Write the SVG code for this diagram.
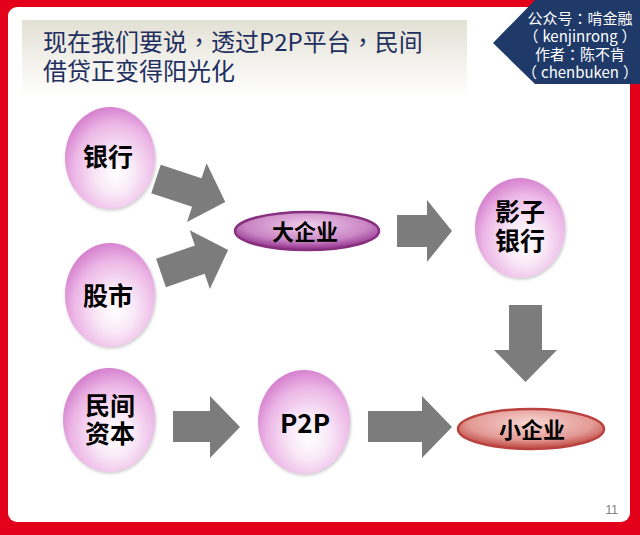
<svg xmlns="http://www.w3.org/2000/svg" width="640" height="535" viewBox="0 0 640 535">
<defs>
<style>
.cjk{font-family:"Noto Sans CJK SC","Liberation Sans",sans-serif;}
.p{font-family:"Noto Sans CJK TC","Noto Sans CJK SC",sans-serif;}
.node{font-family:"Noto Sans CJK SC","Liberation Sans",sans-serif;font-weight:700;fill:#000;text-anchor:middle;}
.sphere{fill:url(#sph);filter:url(#sh);}
.arrow{fill:#7c7c7c;}
.badge{font-family:"Noto Sans CJK SC","Liberation Sans",sans-serif;font-size:15px;fill:#fff;text-anchor:middle;}
</style>
<radialGradient id="sph" cx="0.56" cy="0.62" r="0.62" fx="0.56" fy="0.66">
<stop offset="0" stop-color="#ffffff"/>
<stop offset="0.35" stop-color="#f9e8f7"/>
<stop offset="0.75" stop-color="#ecb6e6"/>
<stop offset="1" stop-color="#d683cf"/>
</radialGradient>
<radialGradient id="purp" cx="0.5" cy="0.35" r="0.6">
<stop offset="0" stop-color="#efcdeb"/>
<stop offset="0.7" stop-color="#c985c4"/>
<stop offset="1" stop-color="#9b3e95"/>
</radialGradient>
<radialGradient id="redg" cx="0.5" cy="0.35" r="0.6">
<stop offset="0" stop-color="#f8d6d2"/>
<stop offset="0.7" stop-color="#e39b96"/>
<stop offset="1" stop-color="#c4544f"/>
</radialGradient>
<linearGradient id="tbox" x1="0" y1="0" x2="0" y2="1">
<stop offset="0" stop-color="#e3e1d5"/>
<stop offset="1" stop-color="#ffffff"/>
</linearGradient>
<filter id="sh" x="-20%" y="-20%" width="140%" height="140%">
<feDropShadow dx="1" dy="1.5" stdDeviation="1.5" flood-color="#666" flood-opacity="0.35"/>
</filter>
</defs>

<g id="frame">
<rect x="0" y="0" width="640" height="535" fill="#e2001a"/>
<rect x="8" y="7" width="622" height="515" rx="9" fill="#ffffff"/>
</g>

<g id="title">
<rect x="22" y="20" width="445" height="78" fill="url(#tbox)"/>
<text class="cjk" x="43" y="51" font-size="24" fill="#1f2f5f">现在我们要说<tspan class="p">，</tspan>透过P2P平台<tspan class="p">，</tspan>民间</text>
<text class="cjk" x="43" y="80" font-size="24" fill="#1f2f5f">借贷正变得阳光化</text>
</g>

<g id="badge">
<polygon points="493,43 535,0 640,0 640,84 535,84" fill="#1f3a68"/>
<text class="badge" x="580" y="24">公众号<tspan class="p">：</tspan>啃金融</text>
<text class="badge" x="580" y="42"><tspan class="p">（</tspan><tspan dx="4">kenjinrong</tspan><tspan class="p" dx="4">）</tspan></text>
<text class="badge" x="580" y="60">作者<tspan class="p">：</tspan>陈不肯</text>
<text class="badge" x="580" y="78"><tspan class="p">（</tspan><tspan dx="4">chenbuken</tspan><tspan class="p" dx="4">）</tspan></text>
</g>

<g id="connectors">
<path class="arrow" transform="translate(156,179) rotate(18.4)" d="M0,-15 H43 V-31 L73,0 L43,31 V15 H0 Z"/>
<path class="arrow" transform="translate(161,273) rotate(-19)" d="M0,-15 H41 V-31 L71,0 L41,31 V15 H0 Z"/>
<path class="arrow" d="M397,215 H427 V200 L452,231 L427,262 V247 H397 Z"/>
<path class="arrow" d="M509,305 H542 V350 H557 L525.5,382 L494,350 H509 Z"/>
<path class="arrow" d="M173,411 H210 V396 L240,427 L210,458 V442 H173 Z"/>
<path class="arrow" d="M368,411 H422 V396 L452,427 L422,458 V442 H368 Z"/>
</g>

<g id="node-bank">
<ellipse class="sphere" cx="110" cy="158" rx="45" ry="51"/>
<text class="node" x="108" y="166" font-size="25">银行</text>
</g>

<g id="node-stock">
<ellipse class="sphere" cx="110" cy="295" rx="45" ry="52"/>
<text class="node" x="108" y="305" font-size="25">股市</text>
</g>

<g id="node-bigcorp">
<ellipse cx="307" cy="231" rx="72" ry="19" fill="url(#purp)" stroke="#86307f" stroke-width="2.5"/>
<text class="node" x="305" y="239.5" font-size="22">大企业</text>
</g>

<g id="node-shadowbank">
<ellipse class="sphere" cx="520" cy="228" rx="45" ry="50"/>
<text class="node" x="520" y="220.5" font-size="25">影子</text>
<text class="node" x="520" y="249.5" font-size="25">银行</text>
</g>

<g id="node-private">
<ellipse class="sphere" cx="109" cy="420" rx="46" ry="52"/>
<text class="node" x="110" y="414.5" font-size="25">民间</text>
<text class="node" x="110" y="442.5" font-size="25">资本</text>
</g>

<g id="node-p2p">
<ellipse class="sphere" cx="304" cy="422" rx="46" ry="52"/>
<text class="node" x="305" y="433" font-size="26">P2P</text>
</g>

<g id="node-smallcorp">
<ellipse cx="531" cy="429" rx="73" ry="20" fill="url(#redg)" stroke="#b9423f" stroke-width="2.5"/>
<text class="node" x="532" y="438" font-size="22">小企业</text>
</g>

<g id="page">
<text x="618" y="514" font-family="Liberation Sans, sans-serif" font-size="12" fill="#7f7f7f" text-anchor="end">11</text>
</g>
</svg>
